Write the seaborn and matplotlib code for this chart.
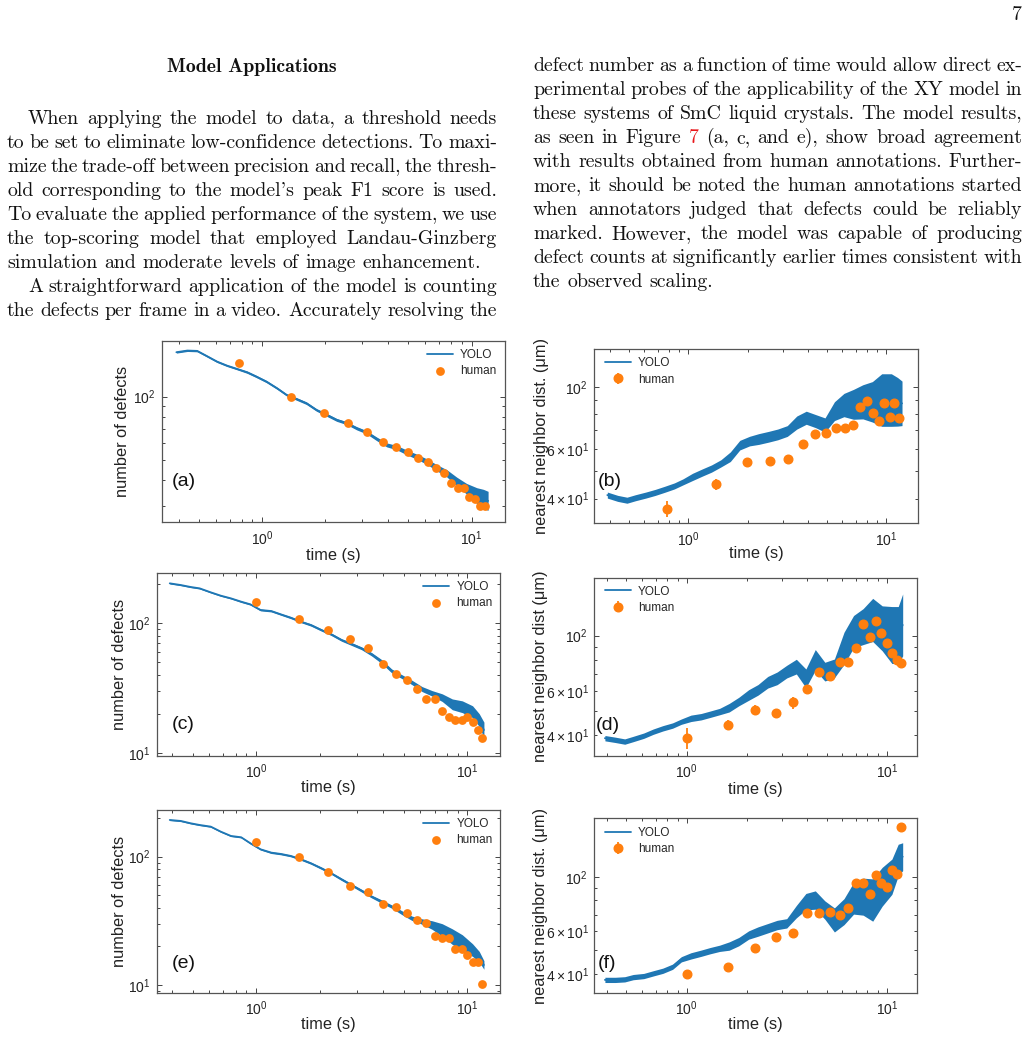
import numpy as np
import pandas as pd
import matplotlib
matplotlib.use("Agg")
import matplotlib.pyplot as plt
import matplotlib.ticker as mticker
import seaborn as sns

# ---------------- data ----------------
T = [0.39, 0.44, 0.49, 0.54, 0.61, 0.68, 0.76, 0.85, 0.94, 1.05, 1.18, 1.31, 1.46, 1.63,
     1.82, 2.04, 2.27, 2.54, 2.83, 3.16, 3.53, 3.94, 4.39, 4.90, 5.47, 6.11, 6.82, 7.61,
     8.50, 9.48, 10.6, 11.4, 12.0]

human_t_early = [0.78, 1.38, 1.98, 2.58, 3.18, 3.78, 4.38, 4.98, 5.58, 6.18, 6.78, 7.38,
                 7.98, 8.58, 9.18, 9.78, 10.38, 10.98, 11.58]
human_t_late = [1.0, 1.6, 2.2, 2.8, 3.4, 4.0, 4.6, 5.2, 5.8, 6.4, 7.0, 7.6, 8.2, 8.8, 9.4,
                10.0, 10.6, 11.2, 11.8]

a_yolo = [162.7, 165.7, 165.1, 156.8, 146.8, 140.5, 135.5, 130.6, 124.6, 117.9, 109.6, 101.9,
          97.5, 93.0, 86.4, 81.8, 77.5, 74.7, 70.7, 67.6, 62.9, 58.9, 57.2, 54.3, 51.8, 49.1,
          45.9, 43.2, 39.4, 36.4, 33.8, 32.6, 31.9]
a_spread = [0.010, 0.010, 0.010, 0.010, 0.010, 0.010, 0.010, 0.012, 0.012, 0.012, 0.012, 0.012,
            0.014, 0.014, 0.014, 0.016, 0.016, 0.016, 0.018, 0.018, 0.020, 0.022, 0.024, 0.026,
            0.028, 0.030, 0.034, 0.040, 0.050, 0.060, 0.090, 0.110, 0.110]
a_human = [145, 100, 84, 74.7, 68, 60.6, 57.8, 54.4, 51.3, 48.7, 45.6, 43.2, 38.9, 36.9, 36.9,
           33.4, 32.4, 30.2, 30.2]

b_yolo = [41.2, 40.1, 39.5, 40.3, 41.2, 42.1, 43.2, 44.4, 45.9, 47.8, 49.6, 51.2, 53.4, 56.4,
          62.0, 64.1, 65.2, 66.4, 67.7, 69.6, 74.6, 77.6, 75.5, 73.1, 81.9, 86.1, 86.6, 88.4,
          88.4, 89.7, 89.7, 88.4, 87.3]
b_spread = [0.025, 0.025, 0.025, 0.025, 0.025, 0.025, 0.025, 0.025, 0.025, 0.030, 0.030, 0.030,
            0.030, 0.040, 0.040, 0.040, 0.045, 0.045, 0.045, 0.045, 0.055, 0.055, 0.055, 0.060,
            0.080, 0.100, 0.130, 0.150, 0.180, 0.240, 0.240, 0.220, 0.200]
b_human = [36.9, 45.0, 53.8, 54.4, 55.5, 62.7, 67.7, 68.6, 71.5, 71.3, 73.1, 84.5, 89.2, 80.4,
           75.5, 87.7, 77.8, 87.3, 77.6]
b_err = [2.5, 2.1, 1.8, 1.8, 1.8, 2.0, 2.0, 2.0, 2.2, 2.2, 2.2, 2.5, 2.5, 2.4, 2.4, 2.6, 2.4,
         2.6, 2.4]

c_yolo = [203, 197, 190.3, 185.8, 173.1, 163.2, 155.6, 146.7, 139.9, 126.6, 124.3, 117.2, 110.5,
          103, 97.0, 88.8, 82.3, 74.4, 69.3, 64.2, 57.7, 50.7, 43.0, 38.9, 35.1, 31.2, 28.9,
          26.8, 23.8, 22.8, 20.9, 18.0, 15.1]
c_spread = [0.012, 0.012, 0.012, 0.012, 0.012, 0.012, 0.012, 0.014, 0.014, 0.016, 0.016, 0.016,
            0.018, 0.018, 0.020, 0.020, 0.022, 0.022, 0.025, 0.025, 0.030, 0.035, 0.035, 0.035,
            0.040, 0.045, 0.050, 0.070, 0.100, 0.110, 0.110, 0.120, 0.150]
c_human = [146.7, 107.3, 88.3, 75.7, 64.2, 48.3, 41.0, 36.6, 31.2, 26.0, 26.1, 21.2, 19.1, 18.0,
           18.0, 19.1, 17.3, 15.1, 13.0]

d_yolo = [38.9, 38.3, 37.7, 38.6, 39.8, 41.3, 42.6, 43.7, 45.3, 46.7, 47.4, 48.5, 49.7, 51.5,
          54.5, 57.9, 60.7, 65.1, 67.5, 71.8, 75.2, 67.5, 80.0, 71.8, 74.0, 89.0, 103.8, 108.7,
          115.6, 107.0, 100.6, 100.6, 110.4]
d_spread = [0.025, 0.025, 0.025, 0.025, 0.025, 0.025, 0.025, 0.025, 0.025, 0.030, 0.030, 0.030,
            0.030, 0.040, 0.040, 0.050, 0.050, 0.055, 0.060, 0.060, 0.070, 0.090, 0.100, 0.090,
            0.090, 0.160, 0.160, 0.180, 0.220, 0.230, 0.300, 0.300, 0.330]
d_human = [38.9, 43.9, 50.4, 48.9, 54.1, 61.2, 71.8, 69.0, 78.2, 78.2, 89.6, 111.4, 99.1, 114.5,
           102.2, 93.2, 85.0, 80.0, 78.0]
d_err = [3.8, 2.0, 2.2, 2.0, 3.0, 2.4, 2.6, 2.6, 2.8, 2.8, 3.0, 3.5, 3.0, 3.5, 3.2, 3.0, 2.8,
         2.6, 2.6]

e_yolo = [193.2, 189.8, 182.0, 176.6, 171.4, 156.7, 145.0, 141.6, 127.1, 114.1, 107.5, 105.0,
          101.3, 95.4, 88.8, 81.2, 74.2, 66.6, 60.2, 54.3, 48.8, 44.6, 40.8, 36.6, 33.1, 31.2,
          29.3, 26.8, 23.8, 21.4, 18.7, 16.6, 14.3]
e_spread = [0.012, 0.012, 0.012, 0.012, 0.012, 0.012, 0.012, 0.012, 0.014, 0.014, 0.016, 0.016,
            0.016, 0.018, 0.018, 0.020, 0.020, 0.022, 0.022, 0.025, 0.025, 0.030, 0.030, 0.035,
            0.040, 0.050, 0.080, 0.120, 0.150, 0.150, 0.120, 0.100, 0.080]
e_human = [130.9, 100.0, 76.4, 59.1, 53.4, 42.5, 40.3, 36.2, 32.1, 30.2, 24.1, 23.1, 23.4, 19.1,
           19.1, 17.1, 15.0, 15.0, 10.1]

f_yolo = [37.9, 37.9, 38.1, 38.9, 39.3, 40.3, 41.3, 42.9, 46.0, 47.5, 48.7, 49.9, 51.0, 52.1,
          54.3, 57.8, 59.7, 61.6, 63.5, 64.5, 72.0, 79.1, 80.3, 73.1, 66.6, 72.0, 81.6, 82.9,
          80.3, 91.0, 100.0, 117.0, 120.7]
f_spread = [0.025, 0.025, 0.025, 0.025, 0.025, 0.025, 0.025, 0.025, 0.025, 0.030, 0.030, 0.030,
            0.030, 0.040, 0.040, 0.040, 0.045, 0.045, 0.045, 0.045, 0.060, 0.080, 0.090, 0.090,
            0.120, 0.130, 0.160, 0.190, 0.220, 0.200, 0.180, 0.160, 0.140]
f_human = [40.1, 42.7, 51.0, 56.6, 58.7, 71.3, 70.9, 71.6, 69.8, 74.3, 93.9, 94.5, 85.0, 101.6,
           93.9, 91.0, 106.5, 102.6, 160.0]
f_err = [1.5, 1.5, 1.8, 2.0, 2.0, 2.2, 2.2, 2.2, 2.2, 2.4, 2.8, 2.8, 2.6, 3.0, 2.8, 2.8, 3.0,
         3.0, 4.0]

panel_letters = ["(a)", "(b)", "(c)", "(d)", "(e)", "(f)"]
ylabels = ["number of defects", "nearest neighbor dist. (\u03bcm)",
           "number of defects", "nearest neighbor dist (\u03bcm)",
           "number of defects", "nearest neighbor dist. (\u03bcm)"]

left_title = "Model Applications"
left_lines = [
    "When applying the model to data, a threshold needs",
    "to be set to eliminate low-confidence detections.  To maxi-",
    "mize the trade-off between precision and recall, the thresh-",
    "old corresponding to the model's peak F1 score is used.",
    "To evaluate the applied performance of the system, we use",
    "the top-scoring model that employed Landau-Ginzberg",
    "simulation and moderate levels of image enhancement.",
    "A straightforward application of the model is counting",
    "the defects per frame in a video.  Accurately resolving the",
]
right_lines = [
    "defect number as a function of time would allow direct ex-",
    "perimental probes of the applicability of the XY model in",
    "these systems of SmC liquid crystals.  The model results,",
    "as seen in Figure 7 (a, c, and e), show broad agreement",
    "with results obtained from human annotations.  Further-",
    "more, it should be noted the human annotations started",
    "when annotators judged that defects could be reliably",
    "marked.  However, the model was capable of producing",
    "defect counts at significantly earlier times consistent with",
    "the observed scaling.",
]
page_number = "7"

# ---------------- style ----------------
sns.set_theme(style="ticks")
plt.rcParams["font.family"] = ["Liberation Sans", "DejaVu Sans"]
plt.rcParams["mathtext.fontset"] = "custom"
plt.rcParams["mathtext.rm"] = "Liberation Sans"
plt.rcParams["mathtext.it"] = "Liberation Sans:italic"
plt.rcParams["mathtext.bf"] = "Liberation Sans:bold"

BLUE = "#1f77b4"
ORANGE = "#ff7f0e"
W, H = 1032, 1041
fig = plt.figure(figsize=(W / 100, H / 100), dpi=100)
fig.patch.set_facecolor("white")

# ---------------- page text ----------------
renderer = fig.canvas.get_renderer()
BODY = 14.3
SERIF = ["cmr10", "DejaVu Serif"]


def put_line(s, x0, x1, ybase, justify, red=()):
    words = s.split()
    objs = []
    for w in words:
        t = fig.text(0, 1 - ybase / H, w, fontsize=BODY, family=SERIF,
                     color="#e8171b" if w in red else "#111111", va="baseline", ha="left")
        objs.append(t)
    widths = [o.get_window_extent(renderer=renderer).width for o in objs]
    if justify and len(words) > 1:
        gap = (x1 - x0 - sum(widths)) / (len(words) - 1)
    else:
        gap = 0.333 * BODY * 100 / 72
    x = x0
    for o, wd in zip(objs, widths):
        o.set_x(x / W)
        x += wd + gap


fig.text(252 / W, 1 - 72 / H, left_title, fontsize=BODY, family=["cmb10", "DejaVu Serif"],
         ha="center", va="baseline", color="#111111")
fig.text(1022 / W, 1 - 20 / H, page_number, fontsize=BODY, family=SERIF,
         ha="right", va="baseline", color="#111111")
for i, s in enumerate(left_lines):
    indent = i in (0, 7)
    put_line(s, 28 if indent else 7, 497, 124 + 24 * i, justify=(i != 6))
for i, s in enumerate(right_lines):
    put_line(s, 533, 1022, 71 + 24 * i, justify=(i != len(right_lines) - 1),
             red=("7",) if i == 3 else ())

# ---------------- panels ----------------
# pixel boxes: left, top, right, bottom
boxes = [(162, 341, 505, 522), (594, 349.3, 917.7, 523.3),
         (157.3, 573.3, 500, 755.7), (594, 577.7, 916.7, 755.7),
         (157.3, 810, 500, 992.7), (594, 818.3, 916.7, 992.7)]
xlims = [(0.333, 14.45), (0.334, 14.4), (0.3405, 14.3), (0.344, 14.1), (0.3405, 14.3), (0.344, 14.1)]
ylims = [(25.3, 184), (32.7, 135.9), (9.58, 242.5), (33.1, 170.6), (8.7, 231), (33.6, 173.2)]
yolos = [a_yolo, b_yolo, c_yolo, d_yolo, e_yolo, f_yolo]
spreads = [a_spread, b_spread, c_spread, d_spread, e_spread, f_spread]
humans = [a_human, b_human, c_human, d_human, e_human, f_human]
htimes = [human_t_early, human_t_early, human_t_late, human_t_late, human_t_late, human_t_late]
errs = [None, b_err, None, d_err, None, f_err]
letter_pos = [(0.064, 0.223), (0.049, 0.239), (0.076, 0.172), (0.044, 0.169), (0.076, 0.161), (0.041, 0.165)]
ylab_x = [-0.092, -0.139, -0.087, -0.141, -0.087, -0.141]
xlab_y = [-0.145, -0.129, -0.133, -0.146, -0.131, -0.138]
leg_pos = [(0.773, 0.956), (0.034, 0.953), (0.776, 0.958), (0.034, 0.956), (0.776, 0.955), (0.034, 0.949)]

for k in range(6):
    l, t, r, b = boxes[k]
    ax = fig.add_axes([l / W, 1 - b / H, (r - l) / W, (b - t) / H])
    ax.set_xscale("log")
    ax.set_yscale("log")
    df = pd.DataFrame({"t": T, "y": yolos[k], "s": spreads[k]})
    ax.fill_between(df["t"], df["y"] / (1 + df["s"]), df["y"] * (1 + df["s"]),
                    color=BLUE, lw=0, zorder=2)
    sns.lineplot(data=df, x="t", y="y", ax=ax, color=BLUE, lw=1.3, label="YOLO",
                 errorbar=None, zorder=3)
    hd = pd.DataFrame({"t": htimes[k], "y": humans[k]})
    if errs[k] is None:
        sns.scatterplot(data=hd, x="t", y="y", ax=ax, color=ORANGE, s=40, linewidth=0,
                        label="human", zorder=4)
    else:
        ax.errorbar(hd["t"], hd["y"], yerr=errs[k], fmt="o", color=ORANGE, ms=6.2,
                    elinewidth=1.3, capsize=0, label="human", zorder=4)
    ax.set_xlim(*xlims[k])
    ax.set_ylim(*ylims[k])
    ax.set_xlabel("time (s)", fontsize=11.8, color="#222222")
    ax.set_ylabel(ylabels[k], fontsize=11.8, color="#222222")
    ax.xaxis.set_label_coords(0.5, xlab_y[k])
    ax.yaxis.set_label_coords(ylab_x[k], 0.5)
    if k in (0, 2, 4):
        ax.yaxis.set_minor_formatter(mticker.NullFormatter())
    ax.tick_params(which="both", direction="in", top=True, right=True, colors="#444444",
                   labelcolor="#222222", labelsize=10, width=0.7)
    ax.tick_params(which="major", length=3.8, pad=5)
    ax.tick_params(which="minor", length=2.2)
    for sp in ax.spines.values():
        sp.set_color("#555555")
        sp.set_linewidth(0.9)
    ax.text(letter_pos[k][0], letter_pos[k][1], panel_letters[k], transform=ax.transAxes,
            fontsize=14, ha="center", va="center", color="#111111")
    ax.legend(loc="upper left", bbox_to_anchor=leg_pos[k], frameon=False, fontsize=8.5,
              borderpad=0, borderaxespad=0, handlelength=2.2, handletextpad=0.6,
              labelspacing=0.35)
    ax.set_facecolor("white")

fig.savefig("out.png", dpi=100)
